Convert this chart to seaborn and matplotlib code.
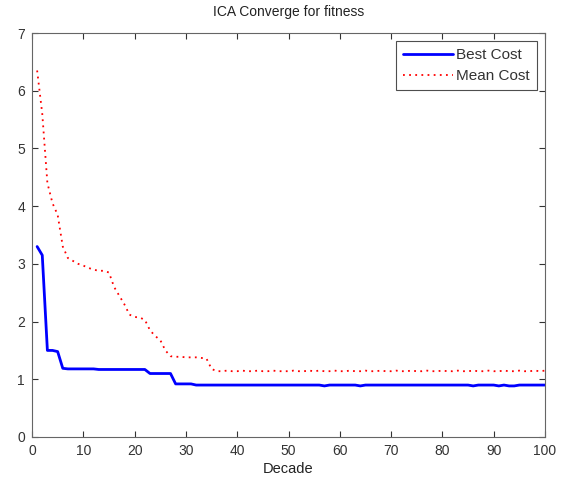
import numpy as np
import pandas as pd
import matplotlib
matplotlib.use("Agg")
import matplotlib.pyplot as plt
import seaborn as sns

decade = list(range(1, 101))

best_cost = ([3.30, 3.15, 1.50, 1.50, 1.48, 1.19]
             + [1.18] * 6 + [1.17] * 10          # 7..22
             + [1.10] * 5                        # 23..27
             + [0.92] * 4                        # 28..31
             + [0.90] * 69)                      # 32..100
for d in (57, 64, 86, 91, 93, 94):
    best_cost[d - 1] = 0.885

mean_cost = [6.35, 5.60, 4.40, 4.05, 3.85, 3.30, 3.10, 3.05, 3.00, 2.97,
             2.93, 2.90, 2.88, 2.88, 2.85, 2.60, 2.45, 2.30, 2.12, 2.08,
             2.07, 2.03, 1.85, 1.75, 1.68, 1.50, 1.40, 1.39, 1.39, 1.38,
             1.38, 1.38, 1.37, 1.36, 1.18, 1.14, 1.14, 1.15, 1.14, 1.14,
             1.15, 1.14, 1.14, 1.15, 1.14, 1.14, 1.15, 1.14, 1.14, 1.14,
             1.15, 1.14, 1.14, 1.15, 1.14, 1.15, 1.14, 1.14, 1.15, 1.14,
             1.14, 1.15, 1.14, 1.14, 1.15, 1.14, 1.14, 1.15, 1.14, 1.14,
             1.15, 1.14, 1.14, 1.15, 1.14, 1.14, 1.15, 1.14, 1.14, 1.15,
             1.14, 1.14, 1.15, 1.14, 1.14, 1.15, 1.14, 1.14, 1.15, 1.14,
             1.14, 1.15, 1.14, 1.14, 1.15, 1.14, 1.14, 1.15, 1.14, 1.15]

xticks = [0, 10, 20, 30, 40, 50, 60, 70, 80, 90, 100]
yticks = [0, 1, 2, 3, 4, 5, 6, 7]

sns.set_style("ticks")
plt.rcParams['font.family'] = ['Liberation Sans', 'DejaVu Sans']

fig = plt.figure(figsize=(5.63, 4.84), dpi=100)
ax = fig.add_axes([32 / 563, 1 - 437 / 484, (545 - 32) / 563, (437 - 33) / 484])

df = pd.DataFrame({"Decade": decade, "Best Cost": best_cost, "Mean Cost": mean_cost})
sns.lineplot(data=df, x="Decade", y="Best Cost", ax=ax, color="#0000ff",
             linewidth=2.0, label="Best Cost")
sns.lineplot(data=df, x="Decade", y="Mean Cost", ax=ax, color="#ff0000",
             linewidth=1.3, linestyle=(0, (1, 2.4)), label="Mean Cost")

ax.set_xlim(0, 100)
ax.set_ylim(0, 7)
ax.set_xticks(xticks)
ax.set_yticks(yticks)
ax.tick_params(direction="in", top=True, right=True, length=4, width=0.8,
               colors="#333333", labelsize=10, labelcolor="#333333", pad=5)
for s in ax.spines.values():
    s.set_color("#666666")
    s.set_linewidth(0.8)
ax.set_xlabel("Decade", fontsize=10.5, color="#222222", labelpad=3)
ax.set_ylabel("")
ax.set_title("ICA Converge for fitness", fontsize=10, color="#222222", pad=12)

leg = ax.legend(loc="upper right", fontsize=11, frameon=True, fancybox=False,
                edgecolor="#222222", handlelength=3.3, borderpad=0.45,
                labelspacing=0.45, handletextpad=0.2, borderaxespad=0.55)
leg.get_frame().set_linewidth(0.8)
for t in leg.get_texts():
    t.set_color("#333333")

fig.savefig("out.png", dpi=100, facecolor="white")
